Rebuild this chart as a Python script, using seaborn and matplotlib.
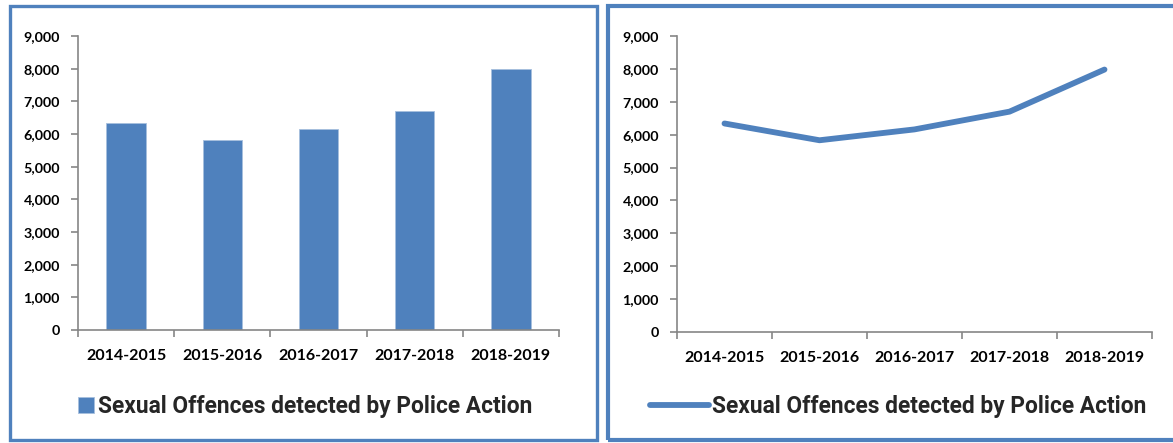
import matplotlib
matplotlib.use("Agg")
import matplotlib.pyplot as plt
import seaborn as sns
import pandas as pd
from matplotlib.patches import Rectangle
from matplotlib.ticker import FuncFormatter, FixedLocator

years = ["2014-2015", "2015-2016", "2016-2017", "2017-2018", "2018-2019"]
offences = [6340, 5830, 6160, 6700, 7980]
series_label = "Sexual Offences detected by Police Action"
y_ticks = [0, 1000, 2000, 3000, 4000, 5000, 6000, 7000, 8000, 9000]

df = pd.DataFrame({"year": years, "value": offences})

sns.set_theme(style="white")
plt.rcParams['font.family'] = ['Lato', 'DejaVu Sans']

legend_family = ['Roboto', 'Liberation Sans', 'DejaVu Sans']

BLUE = "#4F81BD"
GREY = "#868686"
W, H = 1173, 443
fig = plt.figure(figsize=(W / 100, H / 100), dpi=100)

def fx(px):
    return px / W

def fy(py):
    return 1 - py / H

# panel frames
fig.patches.append(Rectangle((fx(10), fy(440)), fx(597) - fx(10), fy(6) - fy(440),
                             transform=fig.transFigure, fill=False, edgecolor=BLUE, lw=2.4))
fig.patches.append(Rectangle((fx(608), fy(440)), fx(1180) - fx(608), fy(6) - fy(440),
                             transform=fig.transFigure, fill=False, edgecolor=BLUE, lw=3.0))

ax1 = fig.add_axes([fx(78), fy(330), fx(559) - fx(78), fy(36) - fy(330)])
ax2 = fig.add_axes([fx(677), fy(332), fx(1152) - fx(677), fy(36) - fy(332)])

sns.barplot(data=df, x="year", y="value", ax=ax1, color=BLUE, width=0.41,
            saturation=1, label=series_label, edgecolor="#A7BFDE", linewidth=0.6)
sns.lineplot(data=df, x="year", y="value", ax=ax2, color=BLUE, lw=4.2,
             label=series_label, sort=False)

fmt = FuncFormatter(lambda v, p: f"{int(v):,}")
for ax in (ax1, ax2):
    ax.set_xlim(-0.5, len(years) - 0.5)
    ax.set_ylim(0, 9000)
    ax.set_xlabel("")
    ax.set_ylabel("")
    ax.yaxis.set_major_locator(FixedLocator(y_ticks))
    ax.yaxis.set_major_formatter(fmt)
    for s in ("top", "right"):
        ax.spines[s].set_visible(False)
    for s in ("left", "bottom"):
        ax.spines[s].set_color(GREY)
        ax.spines[s].set_linewidth(1.2)
    ax.set_xticks(range(len(years)))
    ax.set_xticklabels(years)
    ax.set_xticks([i - 0.5 for i in range(len(years) + 1)], minor=True)
    ax.tick_params(axis="x", which="major", length=0, pad=14, labelsize=11.5)
    ax.tick_params(axis="x", which="minor", length=5, width=1.2, color=GREY, direction="out", bottom=True)
    ax.tick_params(axis="y", which="major", length=5, width=1.2, color=GREY, direction="out",
                   left=True, pad=8, labelsize=10.3)
    for lab in ax.get_xticklabels() + ax.get_yticklabels():
        lab.set_fontweight("bold")
        lab.set_color("black")
    ax.grid(False)
    ax.set_facecolor("none")

h1, l1 = ax1.get_legend_handles_labels()
ax1.legend(h1, l1, loc="center", bbox_to_anchor=(fx(305), fy(406)), bbox_transform=fig.transFigure,
           frameon=False, handlelength=0.7, handleheight=0.7, handletextpad=0.2,
           prop={"family": legend_family, "weight": "bold", "size": 16.4})
h2, l2 = ax2.get_legend_handles_labels()
ax2.legend(h2, l2, loc="center", bbox_to_anchor=(fx(898), fy(406)), bbox_transform=fig.transFigure,
           frameon=False, handlelength=2.6, handletextpad=0.1,
           prop={"family": legend_family, "weight": "bold", "size": 16.4})

fig.savefig("out.png", dpi=100, facecolor="white")
